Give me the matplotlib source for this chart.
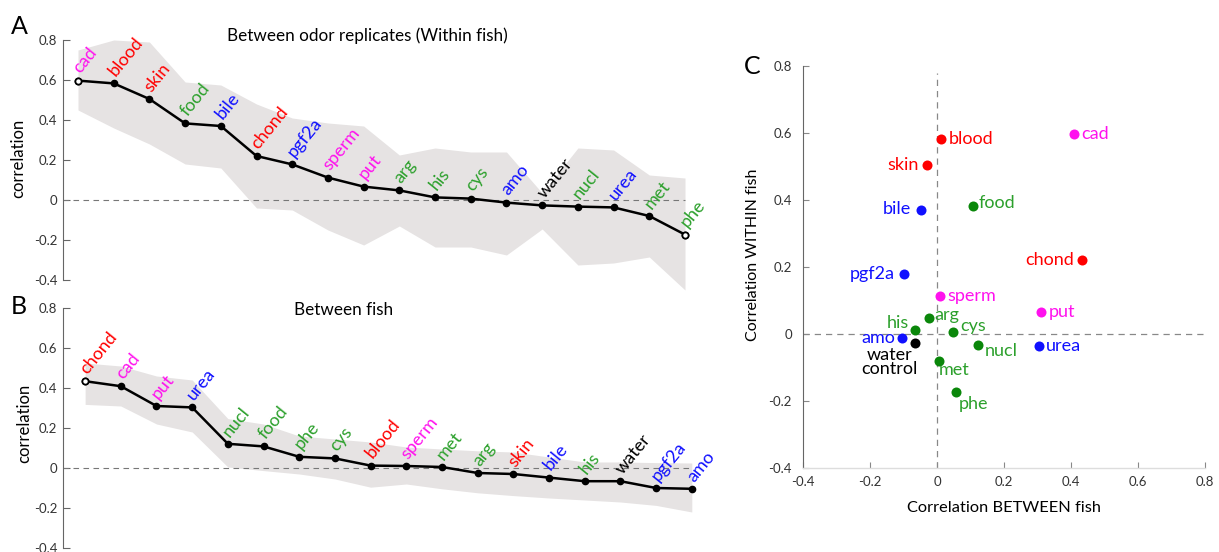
import matplotlib
matplotlib.use("Agg")
import matplotlib.pyplot as plt

plt.rcParams['font.family'] = ['Lato', 'DejaVu Sans']

# panel A: correlation between odor replicates (within fish), sorted
names_within = ['cad', 'blood', 'skin', 'food', 'bile', 'chond', 'pgf2a', 'sperm', 'put',
                'arg', 'his', 'cys', 'amo', 'water', 'nucl', 'urea', 'met', 'phe']
within = [0.597, 0.583, 0.505, 0.383, 0.370, 0.220, 0.178, 0.112, 0.067,
          0.048, 0.013, 0.007, -0.013, -0.027, -0.033, -0.037, -0.080, -0.173]
within_hi = [0.75, 0.80, 0.79, 0.59, 0.575, 0.48, 0.41, 0.385, 0.37,
             0.225, 0.26, 0.24, 0.24, 0.035, 0.26, 0.25, 0.125, 0.11]
within_lo = [0.45, 0.36, 0.28, 0.18, 0.16, -0.04, -0.05, -0.15, -0.225,
             -0.13, -0.235, -0.235, -0.275, -0.145, -0.325, -0.315, -0.285, -0.45]

# panel B: correlation between fish, sorted
names_between = ['chond', 'cad', 'put', 'urea', 'nucl', 'food', 'phe', 'cys', 'blood',
                 'sperm', 'met', 'arg', 'skin', 'bile', 'his', 'water', 'pgf2a', 'amo']
between = [0.434, 0.409, 0.310, 0.303, 0.121, 0.108, 0.056, 0.048, 0.012,
           0.010, 0.005, -0.025, -0.030, -0.048, -0.066, -0.066, -0.100, -0.104]
between_hi = [0.525, 0.51, 0.46, 0.44, 0.247, 0.22, 0.16, 0.145, 0.13,
              0.105, 0.095, 0.086, 0.08, 0.055, 0.03, 0.03, 0.027, 0.025]
between_lo = [0.318, 0.31, 0.22, 0.18, 0.005, -0.013, -0.03, -0.055, -0.096,
              -0.08, -0.104, -0.124, -0.138, -0.15, -0.16, -0.17, -0.187, -0.22]

ytick_vals = [-0.4, -0.2, 0, 0.2, 0.4, 0.6, 0.8]
ytick_labels = ['-0.4', '-0.2', '0', '0.2', '0.4', '0.6', '0.8']

RED, MAG, GRN, BLU, BLK = '#ff0000', '#ff11ee', '#2ca02c', '#1010ff', '#000000'
odor_color = {'blood': RED, 'skin': RED, 'chond': RED,
              'cad': MAG, 'sperm': MAG, 'put': MAG,
              'food': GRN, 'arg': GRN, 'his': GRN, 'cys': GRN, 'nucl': GRN, 'met': GRN, 'phe': GRN,
              'bile': BLU, 'pgf2a': BLU, 'amo': BLU, 'urea': BLU,
              'water': BLK}
dot_color = dict(odor_color)
for k in dot_color:
    if dot_color[k] == GRN:
        dot_color[k] = '#0a870a'

band = '#e6e3e3'
spine_col = '#666666'

W, H = 1219, 552
fig = plt.figure(figsize=(W / 100, H / 100), dpi=100)


def px_axes(left, top, right, bottom):
    return fig.add_axes([left / W, 1 - bottom / H, (right - left) / W, (bottom - top) / H])


def ranked_panel(ax, names, vals, lo, hi, xlim, title, title_xy):
    x = list(range(len(names)))
    ax.fill_between(x, lo, hi, color=band, lw=0, clip_on=False, zorder=1)
    ax.plot([xlim[0], x[-1]], [0, 0], ls=(0, (5, 4)), color='#777777', lw=0.8, zorder=2)
    ax.plot(x, vals, color='k', lw=1.8, marker='o', ms=4.5, zorder=3)
    ax.plot([x[0]], [vals[0]], 'o', ms=4.5, mfc='white', mec='k', mew=1.3, zorder=4)
    for i, (n, v) in enumerate(zip(names, vals)):
        ax.annotate(n, (i, v), xytext=(1.5, 4.5), textcoords='offset points',
                    rotation=51, rotation_mode='anchor', ha='left', va='baseline',
                    color=odor_color[n], fontsize=13)
    ax.set_xlim(*xlim)
    ax.set_ylim(-0.4, 0.8)
    ax.set_xticks([])
    ax.set_yticks(ytick_vals)
    ax.set_yticklabels(ytick_labels)
    ax.tick_params(axis='y', direction='in', length=5, width=0.8, color=spine_col,
                   labelsize=9.5, labelcolor='#333333', pad=4)
    for s in ['top', 'right', 'bottom']:
        ax.spines[s].set_visible(False)
    ax.spines['left'].set_color(spine_col)
    ax.spines['left'].set_linewidth(0.8)
    ax.patch.set_alpha(0)
    fig.text(title_xy[0] / W, 1 - title_xy[1] / H, title, ha='center', va='center', fontsize=12.3)


axA = px_axes(63, 40, 705, 280)
ranked_panel(axA, names_within, within, within_lo, within_hi, (-0.42, 17.56),
             'Between odor replicates (Within fish)', (367, 36))
axA.plot([len(names_within) - 1], [within[-1]], 'o', ms=4.5, mfc='white', mec='k', mew=1.3, zorder=4)

axB = px_axes(63, 308, 705, 548)
ranked_panel(axB, names_between, between, between_lo, between_hi, (-0.62, 17.37),
             'Between fish', (344, 310))

fig.text(18.5 / W, 1 - 158 / H, 'correlation', rotation=90, ha='center', va='center', fontsize=12)
fig.text(24 / W, 1 - 423 / H, 'correlation', rotation=90, ha='center', va='center', fontsize=12)
fig.text(19.5 / W, 1 - 27 / H, 'A', ha='center', va='center', fontsize=18)
fig.text(19 / W, 1 - 307 / H, 'B', ha='center', va='center', fontsize=18)
fig.text(752.5 / W, 1 - 66 / H, 'C', ha='center', va='center', fontsize=18)

# panel C: within vs between, per odor
axC = px_axes(803, 66, 1205, 468)
bw = dict(zip(names_between, between))
wi = dict(zip(names_within, within))
axC.plot([0, 0], [-0.4, 0.78], ls=(0, (5, 4)), color='#888888', lw=0.9, zorder=1)
axC.plot([-0.4, 0.8], [0, 0], ls=(0, (5, 4)), color='#888888', lw=0.9, zorder=1)

# label offsets in pixels (dx, dy up) and alignment
label_pos = {'blood': (8, 0, 'left'), 'skin': (-8, 0, 'right'), 'cad': (7, 0, 'left'),
             'food': (5, 3, 'left'), 'bile': (-10, 1, 'right'), 'chond': (-8, 0, 'right'),
             'pgf2a': (-9, 0, 'right'), 'sperm': (7, 0, 'left'), 'put': (8, 0, 'left'),
             'arg': (6, 3, 'left'), 'his': (-6, 7, 'right'), 'cys': (7, 6, 'left'),
             'amo': (-7, 0, 'right'), 'water': (-25, -19, 'center'), 'nucl': (7, -6, 'left'),
             'urea': (7, 0, 'left'), 'met': (0, -9, 'left'), 'phe': (3, -12, 'left')}
for n in names_within:
    axC.scatter(bw[n], wi[n], s=52, color=dot_color[n], lw=0, zorder=3)
    dx, dy, ha = label_pos[n]
    txt = 'water\ncontrol' if n == 'water' else n
    axC.annotate(txt, (bw[n], wi[n]), xytext=(dx * 0.72, dy * 0.72), textcoords='offset points',
                 ha=ha, va='center', color=odor_color[n], fontsize=13,
                 multialignment='center', linespacing=0.85)

axC.set_xlim(-0.4, 0.8)
axC.set_ylim(-0.4, 0.8)
axC.set_xticks(ytick_vals)
axC.set_xticklabels(ytick_labels)
axC.set_yticks(ytick_vals)
axC.set_yticklabels(ytick_labels)
axC.tick_params(direction='in', length=4, width=0.8, color='#888888',
                labelsize=9.5, labelcolor='#333333')
axC.tick_params(axis='y', pad=8)
axC.tick_params(axis='x', pad=6)
axC.spines['top'].set_visible(False)
axC.spines['right'].set_visible(False)
axC.spines['left'].set_color(spine_col)
axC.spines['left'].set_linewidth(0.8)
axC.spines['bottom'].set_color('#dddddd')
axC.spines['bottom'].set_linewidth(1.0)
axC.set_xlabel('Correlation BETWEEN fish', fontsize=11.8, labelpad=9)
fig.text(753 / W, 1 - 255 / H, 'Correlation WITHIN fish', rotation=90, ha='center', va='center', fontsize=11.5)

fig.savefig('out.png', dpi=100)
